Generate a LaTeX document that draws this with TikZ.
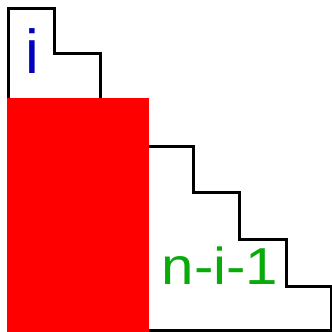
\documentclass[tikz,border=0pt]{standalone}
\usepackage{fontspec}
\setmainfont{Liberation Sans}
\definecolor{hblue}{RGB}{0,0,190}
\definecolor{hgreen}{RGB}{10,170,10}
\begin{document}
\begin{tikzpicture}[x=1pt,y=-1pt,
  outline/.style={draw=black,line width=3pt,line join=miter},
  redblock/.style={fill=red,draw=none},
  handtext/.style={inner sep=0pt,anchor=center}]
\useasboundingbox (0,0) rectangle (332,332);
\draw[outline] (8,8) -- (54,8) -- (54,53) -- (100,53) -- (100,99) -- (147,99) -- (147,146)
  -- (193,146) -- (193,192) -- (239,192) -- (239,239) -- (286,239) -- (286,286)
  -- (331,286) -- (331,330) -- (8,330) -- cycle;
\fill[redblock] (7,98) rectangle (148.5,332);
\node[handtext,text=hblue,font=\fontsize{62}{62}\selectfont] (ilabel) at (32,51) {i};
\node[handtext,text=hgreen,font=\fontsize{52}{52}\selectfont,xscale=1.12] (nlabel) at (220,266) {n-i-1};
\end{tikzpicture}
\end{document}
